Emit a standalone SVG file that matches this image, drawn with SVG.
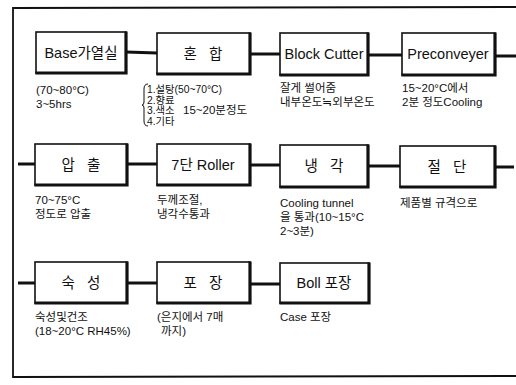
<svg xmlns="http://www.w3.org/2000/svg" width="516" height="385" viewBox="0 0 516 385">
<style>
.box{fill:#fff;stroke:#111;stroke-width:1.6}
.sh{fill:none;stroke:#111;stroke-width:3.2;stroke-linecap:square}
.lbl{font-family:"Liberation Sans","Noto Sans CJK KR",sans-serif;font-size:14.5px;fill:#111;text-anchor:middle}
.note{font-family:"Liberation Sans","Noto Sans CJK KR",sans-serif;font-size:11.5px;fill:#111}
.small{font-family:"Liberation Sans","Noto Sans CJK KR",sans-serif;font-size:10.3px;fill:#111}
.con{stroke:#111;stroke-width:3;fill:none}
.frame{stroke:#111;stroke-width:1.8;fill:none}
</style>
<rect width="516" height="385" fill="#fff"/>
<path class="frame" d="M516,7 L13,8 L13,377 L516,376"/>
<g id="connectors">
<line class="con" x1="126" y1="52" x2="157" y2="53"/>
<line class="con" x1="250" y1="54" x2="280" y2="54"/>
<line class="con" x1="368" y1="55" x2="402" y2="55"/>
<line class="con" x1="495" y1="56" x2="516" y2="56"/>
<line class="con" x1="18" y1="164" x2="35" y2="164"/>
<line class="con" x1="127" y1="164" x2="157" y2="164"/>
<line class="con" x1="250" y1="165" x2="280" y2="165"/>
<line class="con" x1="368" y1="166" x2="400" y2="166"/>
<line class="con" x1="495" y1="167" x2="514" y2="167"/>
<line class="con" x1="18" y1="283" x2="35" y2="283"/>
<line class="con" x1="127" y1="283" x2="157" y2="283"/>
<line class="con" x1="250" y1="284" x2="280" y2="284"/>
</g>
<g id="n1"><rect class="box" x="36" y="32" width="90" height="41"/><path class="sh" d="M126,33 V73 H37"/><text class="lbl" x="81" y="58">Base가열실</text>
<text class="note" x="36" y="94">(70~80°C)</text><text class="note" x="36" y="108">3~5hrs</text></g>
<g id="n2"><rect class="box" x="157" y="33" width="93" height="41"/><path class="sh" d="M250,34 V74 H158"/><text class="lbl" x="203" y="59" xml:space="preserve">혼   합</text>
<path d="M148,84 Q144,84 144,89 V102 Q144,105 142,105 Q144,105 144,108 V121 Q144,126 148,126" fill="none" stroke="#111" stroke-width="1"/>
<text class="small" x="147" y="93">1.설탕(50~70°C)</text><text class="small" x="147" y="103.5">2.향료</text><text class="small" x="147" y="114">3.색소</text><text class="small" x="147" y="124.5">4.기타</text>
<text class="note" x="183" y="114">15~20분정도</text></g>
<g id="n3"><rect class="box" x="280" y="33" width="88" height="42"/><path class="sh" d="M368,34 V75 H281"/><text class="lbl" x="324" y="59">Block Cutter</text>
<text class="note" x="280" y="92">잘게 썰어줌</text><text class="note" x="280" y="106">내부온도≒외부온도</text></g>
<g id="n4"><rect class="box" x="402" y="33" width="93" height="42"/><path class="sh" d="M495,34 V75 H403"/><text class="lbl" x="448" y="59">Preconveyer</text>
<text class="note" x="402" y="92">15~20°C에서</text><text class="note" x="402" y="106">2분 정도Cooling</text></g>
<g id="n5"><rect class="box" x="35" y="144" width="92" height="41"/><path class="sh" d="M127,145 V185 H36"/><text class="lbl" x="81" y="170" xml:space="preserve">압   출</text>
<text class="note" x="35" y="204">70~75°C</text><text class="note" x="35" y="218">정도로 압출</text></g>
<g id="n6"><rect class="box" x="157" y="144" width="93" height="41"/><path class="sh" d="M250,145 V185 H158"/><text class="lbl" x="203" y="170">7단 Roller</text>
<text class="note" x="157" y="204">두께조절,</text><text class="note" x="157" y="218">냉각수통과</text></g>
<g id="n7"><rect class="box" x="280" y="145" width="88" height="42"/><path class="sh" d="M368,146 V187 H281"/><text class="lbl" x="324" y="171" xml:space="preserve">냉   각</text>
<text class="note" x="280" y="207">Cooling tunnel</text><text class="note" x="280" y="221">을 통과(10~15°C</text><text class="note" x="280" y="235">2~3분)</text></g>
<g id="n8"><rect class="box" x="400" y="146" width="95" height="41"/><path class="sh" d="M495,147 V187 H401"/><text class="lbl" x="447" y="172" xml:space="preserve">절   단</text>
<text class="note" x="400" y="207">제품별 규격으로</text></g>
<g id="n9"><rect class="box" x="35" y="262" width="92" height="41"/><path class="sh" d="M127,263 V303 H36"/><text class="lbl" x="81" y="288" xml:space="preserve">숙   성</text>
<text class="note" x="35" y="321">숙성및건조</text><text class="note" x="35" y="335">(18~20°C RH45%)</text></g>
<g id="n10"><rect class="box" x="157" y="262" width="93" height="41"/><path class="sh" d="M250,263 V303 H158"/><text class="lbl" x="203" y="288" xml:space="preserve">포   장</text>
<text class="note" x="157" y="321">(은지에서 7매</text><text class="note" x="161" y="335">까지)</text></g>
<g id="n11"><rect class="box" x="280" y="263" width="89" height="40"/><path class="sh" d="M369,264 V303 H281"/><text class="lbl" x="324" y="288">Boll 포장</text>
<text class="note" x="280" y="321">Case 포장</text></g>
</svg>
